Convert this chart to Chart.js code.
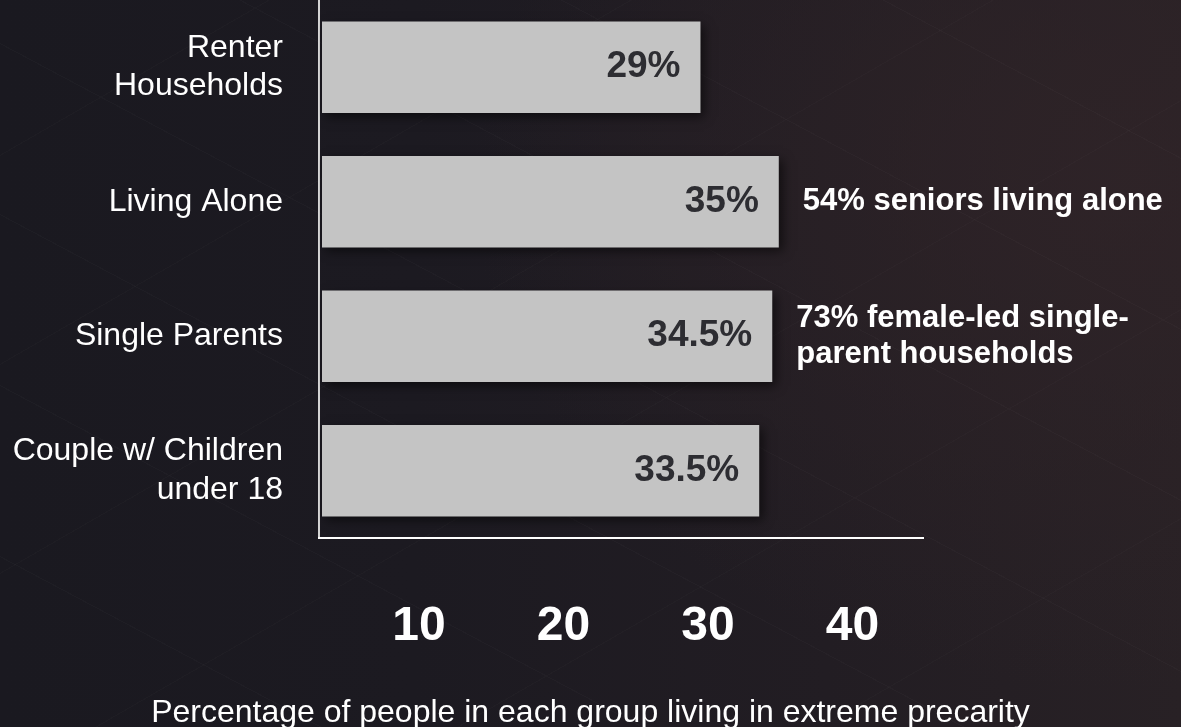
<!DOCTYPE html>
<html>
<head>
<meta charset="utf-8">
<title>Extreme precarity by household type</title>
<script src="https://cdn.jsdelivr.net/npm/chart.js@4.4.1/dist/chart.umd.min.js"></script>
<style>
  html, body { margin: 0; padding: 0; width: 1181px; height: 727px; overflow: hidden; }
  body {
    background:
      repeating-linear-gradient(28deg, rgba(255,255,255,0) 0 150px, rgba(255,255,255,0.018) 150px 151px),
      repeating-linear-gradient(-30deg, rgba(255,255,255,0) 0 180px, rgba(255,255,255,0.015) 180px 181px),
      radial-gradient(ellipse 55% 70% at 95% 25%, rgba(48,36,40,0.8) 0%, rgba(48,36,40,0) 100%),
      linear-gradient(90deg, #1a1920 0%, #1c1a21 35%, #221d23 70%, #282125 100%);
  }
  #wrap { position: relative; width: 1181px; height: 727px; }
</style>
</head>
<body>
<div id="wrap"><canvas id="chart" width="1181" height="727"></canvas></div>
<script>
// Household groups (multi-line labels) and the share living in extreme precarity
const groups = [
  ["Renter", "Households"],
  ["Living Alone"],
  ["Single Parents"],
  ["Couple w/ Children", "under 18"]
];
const precarityPct = [29, 35, 34.5, 33.5];
const valueLabels = ["29%", "35%", "34.5%", "33.5%"];

// Side notes printed next to some bars
const sideNotes = [
  [],
  ["54% seniors living alone"],
  ["73% female-led single-", "parent households"],
  []
];

// Labels shown along the bottom axis
const tickValues = [10, 20, 30, 40];
const axisTitle = "Percentage of people in each group living in extreme precarity";

const FONT = "'Liberation Sans', Arial, Helvetica, sans-serif";

// Soft drop shadow under the bars
const barShadow = {
  id: 'barShadow',
  beforeDatasetsDraw(chart) {
    const c = chart.ctx;
    c.save();
    c.shadowColor = 'rgba(0,0,0,0.55)';
    c.shadowBlur = 10;
    c.shadowOffsetX = 4;
    c.shadowOffsetY = 4;
  },
  afterDatasetsDraw(chart) {
    chart.ctx.restore();
  }
};

// Value labels inside the bar ends and the notes to their right
const barText = {
  id: 'barText',
  afterDatasetsDraw(chart) {
    const c = chart.ctx;
    const meta = chart.getDatasetMeta(0);
    c.save();
    meta.data.forEach((bar, i) => {
      c.font = "bold 37px " + FONT;
      c.fillStyle = '#2d2d32';
      c.textAlign = 'right';
      c.textBaseline = 'middle';
      c.fillText(valueLabels[i], bar.x - 20, bar.y);

      const lines = sideNotes[i];
      if (lines.length) {
        c.font = "bold 31px " + FONT;
        c.fillStyle = '#ffffff';
        c.textAlign = 'left';
        const lh = 36;
        const y0 = bar.y - (lines.length - 1) * lh / 2;
        lines.forEach((t, k) => c.fillText(t, bar.x + 24, y0 + k * lh));
      }
    });
    c.restore();
  }
};

// Axis caption centred across the whole canvas, under the tick numbers
const bottomCaption = {
  id: 'bottomCaption',
  afterDraw(chart) {
    const c = chart.ctx;
    c.save();
    c.font = "32px " + FONT;
    c.fillStyle = '#ffffff';
    c.textAlign = 'center';
    c.textBaseline = 'alphabetic';
    c.fillText(axisTitle, chart.width / 2, chart.height - 5);
    c.restore();
  }
};

new Chart(document.getElementById('chart'), {
  type: 'bar',
  data: {
    labels: groups,
    datasets: [{
      data: precarityPct,
      backgroundColor: '#c4c4c4',
      borderWidth: 0,
      categoryPercentage: 1,
      barPercentage: 0.68
    }]
  },
  options: {
    indexAxis: 'y',
    responsive: false,
    animation: false,
    layout: { padding: { top: -3, right: 258, bottom: 0, left: 0 } },
    plugins: {
      legend: { display: false },
      tooltip: { enabled: false }
    },
    scales: {
      y: {
        type: 'category',
        grid: { display: false, drawTicks: false },
        border: { display: true, color: '#d4d4d4', width: 2 },
        ticks: { color: '#ffffff', font: { family: FONT, size: 32, lineHeight: 1.2 }, padding: 36 },
        afterFit(s) { s.width = 319; s.paddingTop = 0; s.paddingBottom = 0; }
      },
      x: {
        type: 'linear',
        position: 'bottom',
        min: -0.23,
        max: 46.05,
        grid: { display: false, drawTicks: false },
        border: { display: true, color: '#ffffff', width: 2 },
        ticks: { display: false },
        afterFit(s) { s.height = 0; s.paddingLeft = 0; s.paddingRight = 0; }
      },
      x2: {
        type: 'linear',
        position: 'bottom',
        min: 3.08,
        max: 44.88,
        grid: { display: false, drawTicks: false },
        border: { display: false },
        ticks: {
          color: '#ffffff',
          font: { family: FONT, size: 48, weight: 'bold' },
          padding: 60,
          maxRotation: 0,
          autoSkip: false
        },
        afterBuildTicks(s) { s.ticks = tickValues.map(v => ({ value: v })); },
        afterFit(s) { s.height = 189; s.paddingLeft = 0; s.paddingRight = 0; }
      }
    }
  },
  plugins: [barShadow, barText, bottomCaption]
});
</script>
</body>
</html>
